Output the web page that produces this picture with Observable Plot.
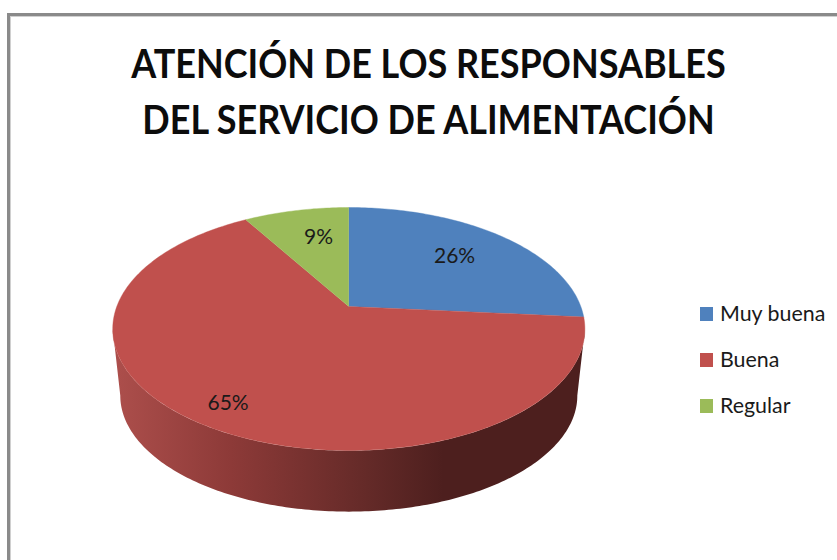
<!DOCTYPE html>
<html lang="es">
<head>
<meta charset="utf-8">
<script src="https://cdn.jsdelivr.net/npm/d3@7"></script>
<script src="https://cdn.jsdelivr.net/npm/@observablehq/plot@0.6"></script>
<style>
  html, body { margin: 0; padding: 0; background: #fff; overflow: hidden; }
  #stage { position: relative; width: 837px; height: 560px; overflow: hidden; font-family: Lato, Carlito, sans-serif; color: #1a1a1a; }
  #stage svg { position: absolute; left: 0; top: 0; display: block; }
  #frame { position: absolute; left: 7px; top: 13px; width: 840px; height: 560px; border-left: 3px solid #8a8a8a; border-top: 3px solid #8a8a8a; box-shadow: inset 1px 1px 0 #d0d0d0; }
  #title { position: absolute; left: 0; width: 857px; top: 35px; margin: 0; text-align: center; font-size: 40px; line-height: 56px; font-weight: 700; color: #0c0c0c; transform: scaleX(0.9); transform-origin: 428.5px 0; }
  #legend { position: absolute; left: 700px; top: 291px; }
  #legend div { display: flex; align-items: center; height: 46px; font-size: 21.4px; white-space: nowrap; }
  #legend span { position: relative; top: -1px; }
  #legend i { display: inline-block; width: 13px; height: 14px; margin-right: 7px; }
</style>
</head>
<body>
<div id="stage">
  <div id="frame"></div>
  <h1 id="title"></h1>
  <div id="legend"></div>
  <div id="chart"></div>
</div>
<script>
const titleLines = ["ATENCIÓN DE LOS RESPONSABLES", "DEL SERVICIO DE ALIMENTACIÓN"];
const categories = ["Muy buena", "Buena", "Regular"];
const percents = [26.4, 65, 8.6];
const colors = ["#4f81bd", "#c0504d", "#9bbb59"];
const wallStops = [0, 0.25, 0.54, 0.70, 1];
const wallColors = ["#ad4f4c", "#8d3a38", "#642a28", "#4d1f1e", "#4d1f1e"];

// Layout of the tilted pie
const apexX = 348.3, apexY = 306, spanX = 232, spanY = 117.3, tilt = 0.185;
const rimX = 1 / Math.sqrt(1 - tilt * tilt);
const rimCentre = tilt * 1.04, rimY = 1.036;
const floorScaleX = 0.968, floorScaleY = 0.955, floorDrop = 0.567;
const labelReach = [0.67, 0.85, 0.67];
const labelTurn = [0, 0, 0.05];

const project = (angle, r) => {
  const u = r * Math.sin(angle), v = -r * Math.cos(angle), w = 1 - tilt * v;
  return {x: u / w, y: v / w};
};

const arcs = d3.pie().sort(null)(percents);
const slices = arcs.flatMap((a, i) => {
  const n = Math.ceil((a.endAngle - a.startAngle) * 60);
  return [
    {key: categories[i], color: colors[i], ...project(0, 0)},
    ...d3.range(n + 1).map(k => ({
      key: categories[i], color: colors[i],
      ...project(a.startAngle + (a.endAngle - a.startAngle) * k / n, 1)
    }))
  ];
});
const labels = arcs.map((a, i) => ({
  text: Math.round(percents[i]) + "%",
  ...project((a.startAngle + a.endAngle) / 2 + labelTurn[i], labelReach[i])
}));

const rimPoint = t => ({x: rimX * Math.cos(t), y: rimCentre + rimY * Math.sin(t)});
const floorPoint = t => ({
  x: floorScaleX * rimX * Math.cos(t),
  y: rimCentre + floorDrop + floorScaleY * rimY * Math.sin(t)
});
const sweep = d3.range(181).map(k => Math.PI * (1 - k / 180));
const wall = [...sweep.map(rimPoint), ...sweep.slice().reverse().map(floorPoint)];

const wallGradient = () => {
  const svgNS = "http://www.w3.org/2000/svg";
  const defs = document.createElementNS(svgNS, "defs");
  const grad = document.createElementNS(svgNS, "linearGradient");
  grad.setAttribute("id", "wall-shade");
  wallStops.forEach((s, i) => {
    const stop = document.createElementNS(svgNS, "stop");
    stop.setAttribute("offset", s);
    stop.setAttribute("stop-color", wallColors[i]);
    grad.append(stop);
  });
  defs.append(grad);
  return defs;
};

document.getElementById("title").innerHTML = titleLines.join("<br>");
document.getElementById("legend").innerHTML = categories
  .map((c, i) => `<div><i style="background:${colors[i]}"></i><span>${c}</span></div>`).join("");

document.getElementById("chart").append(Plot.plot({
  width: 837,
  height: 560,
  margin: 0,
  style: {fontFamily: "Lato, Carlito, sans-serif", background: "transparent"},
  x: {axis: null, domain: [-1, 1], range: [apexX - spanX, apexX + spanX]},
  y: {axis: null, domain: [-1, 1], range: [apexY - spanY, apexY + spanY]},
  color: {type: "identity"},
  marks: [
    wallGradient,
    Plot.line(wall, {x: "x", y: "y", fill: "url(#wall-shade)", stroke: "none", curve: "linear"}),
    Plot.line(slices, {x: "x", y: "y", z: "key", fill: "color", stroke: "color", strokeWidth: 0.4, curve: "linear"}),
    Plot.text(labels, {x: "x", y: "y", text: "text", fontSize: 21, dy: -1, fill: "#1a1a1a"})
  ]
}));
</script>
</body>
</html>
